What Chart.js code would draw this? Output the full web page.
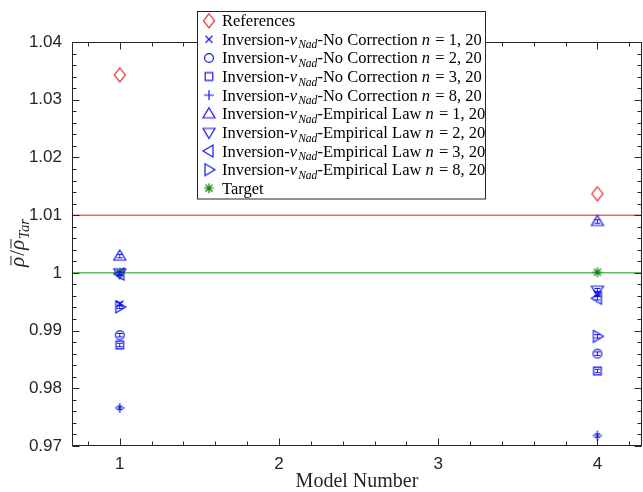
<!DOCTYPE html>
<html>
<head>
<meta charset="utf-8">
<script src="https://cdn.jsdelivr.net/npm/chart.js@4.4.0/dist/chart.umd.min.js"></script>
<style>
html, body { margin: 0; padding: 0; background: #fff; overflow: hidden; }
</style>
</head>
<body>
<canvas id="canvas" width="643" height="492"></canvas>
<script>
// model numbers on the x axis
var models = [1, 4];

// rho / rho_Tar for each series
var references = [1.0343, 1.0137];
var noCorr1 = [0.9946, 0.9964];
var noCorr2 = [0.9892, 0.9860];
var noCorr3 = [0.9875, 0.9830];
var noCorr8 = [0.9766, 0.9718];
var empLaw1 = [1.0029, 1.0089];
var empLaw2 = [1.0000, 0.9970];
var empLaw3 = [0.9998, 0.9956];
var empLaw8 = [0.9941, 0.9890];
var target = [1.0000, 1.0001];

// small error bars drawn inside the blue markers
var noCorr1Err = [0.0003, 0.0003];
var noCorr2Err = [0.0003, 0.0003];
var noCorr3Err = [0.0003, 0.0003];
var noCorr8Err = [0.0003, 0.0003];
var empLaw1Err = [0.0003, 0.0003];
var empLaw2Err = [0.0003, 0.0003];
var empLaw3Err = [0.0003, 0.0003];
var empLaw8Err = [0.0003, 0.0003];

// horizontal reference lines
var upperLine = 1.01;
var targetLine = 1.0;

// axes
var xMin = 0.7, xMax = 4.28;
var yMin = 0.97, yMax = 1.04;
var xTicks = [1, 2, 3, 4];
var yTicks = [0.97, 0.98, 0.99, 1.0, 1.01, 1.02, 1.03, 1.04];
var yTickLabels = ['0.97', '0.98', '0.99', '1', '1.01', '1.02', '1.03', '1.04'];

var RED = 'rgb(232,30,30)';
var BLUE = 'rgb(20,20,235)';
var GREEN = 'rgb(10,130,10)';
var AXIS = '#262626';
var SERIF = '"Liberation Serif", "Times New Roman", serif';
var SANS = '"Liberation Sans", Arial, sans-serif';

function marker(type, color) {
    var c = document.createElement('canvas');
    c.width = 20; c.height = 20;
    var g = c.getContext('2d');
    g.translate(10, 10);
    g.strokeStyle = color;
    g.lineWidth = 1.2;
    g.beginPath();
    if (type == 'diamond') { g.moveTo(0, -7); g.lineTo(5.5, 0); g.lineTo(0, 7); g.lineTo(-5.5, 0); g.closePath(); }
    if (type == 'x') { g.moveTo(-3.5, -3.5); g.lineTo(3.5, 3.5); g.moveTo(3.5, -3.5); g.lineTo(-3.5, 3.5); }
    if (type == 'circle') { g.arc(0, 0, 4.4, 0, 2 * Math.PI); }
    if (type == 'square') { g.rect(-3.8, -3.8, 7.6, 7.6); }
    if (type == 'plus') { g.moveTo(-5, 0); g.lineTo(5, 0); g.moveTo(0, -5); g.lineTo(0, 5); }
    if (type == 'up') { g.moveTo(0, -6); g.lineTo(6, 4); g.lineTo(-6, 4); g.closePath(); }
    if (type == 'down') { g.moveTo(0, 6); g.lineTo(6, -4); g.lineTo(-6, -4); g.closePath(); }
    if (type == 'left') { g.moveTo(-6, 0); g.lineTo(4, -6); g.lineTo(4, 6); g.closePath(); }
    if (type == 'right') { g.moveTo(6, 0); g.lineTo(-4, -6); g.lineTo(-4, 6); g.closePath(); }
    if (type == 'star') {
        for (var k = 0; k < 4; k++) {
            var a = k * Math.PI / 4;
            g.moveTo(-5 * Math.cos(a), -5 * Math.sin(a));
            g.lineTo(5 * Math.cos(a), 5 * Math.sin(a));
        }
    }
    g.stroke();
    return c;
}

function inv(method, n) {
    return [{t: 'Inversion-'}, {t: '\u03bd', i: 1}, {t: 'Nad', i: 1, s: 1},
            {t: '-' + method + ' '}, {t: 'n', i: 1}, {t: ' = ' + n + ', 20'}];
}

function pts(ys) {
    return models.map(function (m, i) { return {x: m, y: ys[i]}; });
}

var series = [
    {ys: references, mk: 'diamond', color: RED, parts: [{t: 'References'}]},
    {ys: noCorr1, err: noCorr1Err, mk: 'x', color: BLUE, parts: inv('No Correction', 1)},
    {ys: noCorr2, err: noCorr2Err, mk: 'circle', color: BLUE, parts: inv('No Correction', 2)},
    {ys: noCorr3, err: noCorr3Err, mk: 'square', color: BLUE, parts: inv('No Correction', 3)},
    {ys: noCorr8, err: noCorr8Err, mk: 'plus', color: BLUE, parts: inv('No Correction', 8)},
    {ys: empLaw1, err: empLaw1Err, mk: 'up', color: BLUE, parts: inv('Empirical Law', 1)},
    {ys: empLaw2, err: empLaw2Err, mk: 'down', color: BLUE, parts: inv('Empirical Law', 2)},
    {ys: empLaw3, err: empLaw3Err, mk: 'left', color: BLUE, parts: inv('Empirical Law', 3)},
    {ys: empLaw8, err: empLaw8Err, mk: 'right', color: BLUE, parts: inv('Empirical Law', 8)},
    {ys: target, mk: 'star', color: GREEN, parts: [{t: 'Target'}]}
];

var datasets = series.map(function (s, i) {
    return {
        type: 'scatter',
        data: pts(s.ys),
        pointStyle: marker(s.mk, s.color),
        pointRadius: 6,
        borderColor: s.color,
        err: s.err,
        parts: s.parts,
        order: series.length - i
    };
});

datasets.push({
    type: 'line', data: [{x: xMin, y: upperLine}, {x: xMax, y: upperLine}],
    borderColor: 'rgba(232,60,60,0.8)', borderWidth: 1.5, pointRadius: 0, order: 100
});
datasets.push({
    type: 'line', data: [{x: xMin, y: targetLine}, {x: xMax, y: targetLine}],
    borderColor: 'rgba(60,170,60,0.8)', borderWidth: 1.5, pointRadius: 0, order: 101
});

// draws a piece of LaTeX-like text: italic parts, subscripts, bars
function rich(ctx, parts, x, y, size, measureOnly) {
    var w = 0;
    parts.forEach(function (p) {
        var fs = p.s ? size * 0.7 : size;
        ctx.font = (p.i ? 'italic ' : '') + fs + 'px ' + SERIF;
        var pw = ctx.measureText(p.t).width;
        if (!measureOnly) {
            var yy = p.s ? y + size * 0.22 : y;
            ctx.fillText(p.t, x + w, yy);
            if (p.bar) {
                ctx.beginPath();
                ctx.lineWidth = 1;
                ctx.moveTo(x + w + 1.5, y - size * 0.62);
                ctx.lineTo(x + w + pw + 1, y - size * 0.62);
                ctx.stroke();
            }
        }
        w += pw + (p.i && !p.s ? 1 : 0);
    });
    return w;
}

var errorBars = {
    id: 'errorBars',
    afterDatasetsDraw: function (chart) {
        var ctx = chart.ctx, xs = chart.scales.x, ys = chart.scales.y;
        ctx.save();
        chart.data.datasets.forEach(function (ds) {
            if (!ds.err) return;
            ctx.strokeStyle = ds.borderColor;
            ctx.lineWidth = 1;
            ds.data.forEach(function (p, i) {
                var px = xs.getPixelForValue(p.x);
                var y1 = ys.getPixelForValue(p.y - ds.err[i]);
                var y2 = ys.getPixelForValue(p.y + ds.err[i]);
                ctx.beginPath();
                ctx.moveTo(px, y1); ctx.lineTo(px, y2);
                ctx.moveTo(px - 3, y1); ctx.lineTo(px + 3, y1);
                ctx.moveTo(px - 3, y2); ctx.lineTo(px + 3, y2);
                ctx.stroke();
            });
        });
        ctx.restore();
    }
};

var frame = {
    id: 'frame',
    afterDraw: function (chart) {
        var ctx = chart.ctx, a = chart.chartArea;
        var xs = chart.scales.x, ys = chart.scales.y;
        var L = Math.round(a.left) + 0.5, R = Math.round(a.right) - 0.5;
        var T = Math.round(a.top) + 0.5, B = Math.round(a.bottom) - 0.5;
        ctx.save();
        ctx.strokeStyle = AXIS;
        ctx.lineWidth = 1;
        ctx.strokeRect(L, T, R - L, B - T);

        // inward ticks on all four sides
        ctx.beginPath();
        var v, px, len;
        for (v = 0.8; v < xMax; v += 0.2) {
            px = Math.round(xs.getPixelForValue(v)) + 0.5;
            len = Math.abs(v - Math.round(v)) < 1e-6 ? 7 : 4;
            ctx.moveTo(px, B); ctx.lineTo(px, B - len);
            ctx.moveTo(px, T); ctx.lineTo(px, T + len);
        }
        for (var k = 0; k <= 35; k++) {
            v = yMin + k * 0.002;
            px = Math.round(ys.getPixelForValue(v)) + 0.5;
            len = k % 5 == 0 ? 7 : 4;
            ctx.moveTo(L, px); ctx.lineTo(L + len, px);
            ctx.moveTo(R, px); ctx.lineTo(R - len, px);
        }
        ctx.stroke();

        // axis titles
        ctx.fillStyle = AXIS;
        ctx.strokeStyle = AXIS;
        ctx.textBaseline = 'alphabetic';
        ctx.font = '20px ' + SERIF;
        ctx.textAlign = 'center';
        ctx.fillText('Model Number', (a.left + a.right) / 2, 487);
        ctx.textAlign = 'left';
        var yt = [{t: '\u03c1', i: 1, bar: 1}, {t: '/'}, {t: '\u03c1', i: 1, bar: 1}, {t: 'Tar', i: 1, s: 1}];
        ctx.save();
        ctx.translate(24, 243);
        ctx.rotate(-Math.PI / 2);
        var tw = rich(ctx, yt, 0, 0, 21, true);
        rich(ctx, yt, -tw / 2, 0, 21, false);
        ctx.restore();

        // legend
        var bx = 197.5, by = 11.5, bw = 288, bh = 187.5;
        ctx.fillStyle = '#fff';
        ctx.fillRect(bx, by, bw, bh);
        ctx.strokeStyle = AXIS;
        ctx.strokeRect(bx, by, bw, bh);
        ctx.fillStyle = '#000';
        chart.data.datasets.forEach(function (ds, i) {
            if (!ds.parts) return;
            var cy = 20.7 + i * 18.62;
            ctx.drawImage(ds.pointStyle, 209 - 10, cy - 10);
            rich(ctx, ds.parts, 222, cy + 5.5, 16.5, false);
        });
        ctx.restore();
    }
};

window.onload = function () {
    var ctx = document.getElementById('canvas').getContext('2d');
    window.myChart = new Chart(ctx, {
        type: 'scatter',
        data: {datasets: datasets},
        options: {
            responsive: false,
            animation: false,
            layout: {autoPadding: false, padding: {left: 0, right: 1, top: 42, bottom: 0}},
            plugins: {legend: {display: false}, tooltip: {enabled: false}},
            scales: {
                x: {
                    type: 'linear', min: xMin, max: xMax,
                    afterBuildTicks: function (s) { s.ticks = xTicks.map(function (v) { return {value: v}; }); },
                    afterFit: function (s) { s.height = 46; s.paddingLeft = 0; s.paddingRight = 0; },
                    grid: {display: false, drawTicks: false},
                    border: {display: false},
                    ticks: {font: {family: SANS, size: 17}, color: AXIS, padding: 8, maxRotation: 0}
                },
                y: {
                    type: 'linear', min: yMin, max: yMax,
                    afterBuildTicks: function (s) { s.ticks = yTicks.map(function (v) { return {value: v}; }); },
                    afterFit: function (s) { s.width = 72; s.paddingTop = 0; s.paddingBottom = 0; },
                    grid: {display: false, drawTicks: false},
                    border: {display: false},
                    ticks: {
                        font: {family: SANS, size: 17}, color: AXIS, padding: 10,
                        callback: function (v, i) { return yTickLabels[i]; }
                    }
                }
            }
        },
        plugins: [errorBars, frame]
    });
};
</script>
</body>
</html>
